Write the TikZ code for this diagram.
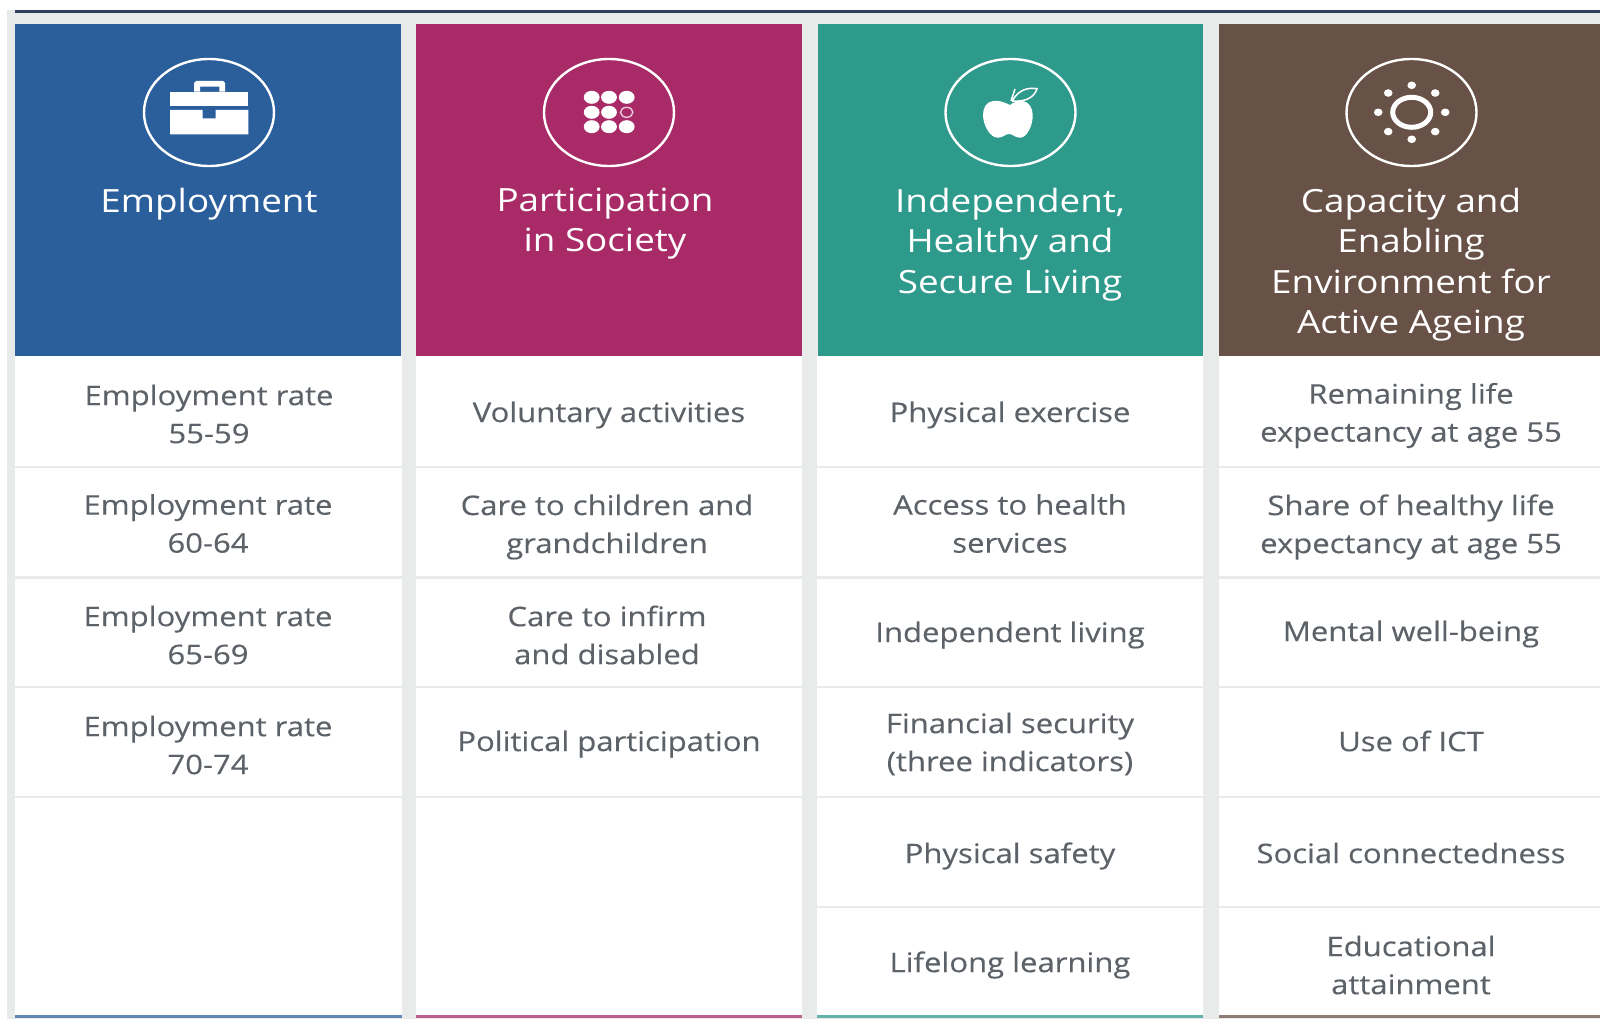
\documentclass[tikz,border=0pt]{standalone}
\usepackage{fontspec}
\setmainfont[FakeStretch=1.15]{Open Sans}
\newfontfamily\bodyfont[FakeStretch=1.15,FakeBold=0.25]{Open Sans}
\usetikzlibrary{shapes.geometric}
\definecolor{cblue}{HTML}{2B5F9C}
\definecolor{cmag}{HTML}{A82B68}
\definecolor{cteal}{HTML}{2E9A8C}
\definecolor{cbrown}{HTML}{685247}
\definecolor{cgrey}{HTML}{E9EBEB}
\definecolor{cbar}{HTML}{2C4160}
\definecolor{ctext}{HTML}{5C6268}
\tikzset{
  x=1pt,y=-1pt,
  head/.style={inner sep=0,outer sep=0,anchor=north west,minimum width=385.5pt,minimum height=331pt},
  ring/.style={ellipse,draw=white,line width=2.4pt,inner sep=0,minimum width=130pt,minimum height=107pt},
  htext/.style={text=white,align=center,anchor=north,inner sep=0,font=\fontsize{32}{40.6}\selectfont},
  cell/.style={text=ctext,align=center,anchor=center,inner sep=0,font=\bodyfont\fontsize{27}{38}\selectfont},
  sep/.style={draw=cgrey,line width=2.5pt},
}
\begin{document}
\begin{tikzpicture}
\useasboundingbox (0,0) rectangle (1600,1019);
\fill[white] (0,0) rectangle (1600,1019);
\fill[cgrey] (7,10) rectangle (1600,1019);
\fill[cbar] (15,10) rectangle (1600,13.5);
% white column bodies
\foreach \xa/\xb in {15/402,416/802,817/1203,1219/1600}{
  \fill[white] (\xa,355) rectangle (\xb,1015);
  \foreach \yy in {467,577.5,687,797}{\draw[sep] (\xa,\yy) -- (\xb,\yy);}
}
\foreach \xa/\xb in {817/1203,1219/1600}{
  \draw[sep] (\xa,907) -- (\xb,907);
}
% headers
\node[head,fill=cblue] (h1) at (15,24.5) {};
\node[head,fill=cmag] (h2) at (416,24.5) {};
\node[head,fill=cteal] (h3) at (817.5,24.5) {};
\fill[cbrown] (1219,24.5) rectangle (1600,355.5);
% bottom bars
\fill[cblue!75!white] (15,1014.5) rectangle (402,1018);
\fill[cmag!75!white] (416,1014.5) rectangle (802,1018);
\fill[cteal!75!white] (817,1014.5) rectangle (1203,1018);
\fill[cbrown!75!white] (1219,1014.5) rectangle (1600,1018);
% rings
\node[ring] (r1) at (209,112.5) {};
\node[ring] (r2) at (609,112.5) {};
\node[ring] (r3) at (1010.5,112.5) {};
\node[ring] (r4) at (1411.5,112.5) {};
% briefcase
\fill[white] (170,91.7) rectangle (248.3,106);
\fill[white] (170,110) -- (202.7,110) -- (202.7,118.3) -- (215.7,118.3) -- (215.7,110) -- (248.3,110) -- (248.3,134.3) -- (170,134.3) -- cycle;
\fill[white,even odd rule] (194,91.7) -- (194,83) -- (196,81) -- (223,81) -- (225,83) -- (225,91.7) -- cycle (200,91.7) rectangle (219.3,86.7);
% dots
\foreach \px in {591.7,609,626.7}{\foreach \py in {97.3,112.3,126.7}{
  \ifdim\px pt=626.7pt \ifdim\py pt=112.3pt \else \fill[white] (\px,\py) ellipse [x radius=7.9,y radius=6.5]; \fi
  \else \fill[white] (\px,\py) ellipse [x radius=7.9,y radius=6.5]; \fi
}}
\draw[white!75!cmag,line width=1.4pt] (626.7,112.3) ellipse [x radius=6.2,y radius=5];
% apple
\fill[white] (1010,105) .. controls (1004,102) and (998,100) .. (993,101)
  .. controls (986,102) and (983,108) .. (983,115)
  .. controls (983,125) and (990,138) .. (998,137.7)
  .. controls (1003,137.7) and (1005,134) .. (1009,134)
  .. controls (1013,134) and (1015,137.7) .. (1020,137.7)
  .. controls (1027,138) and (1033,125) .. (1032.7,115)
  .. controls (1032.7,108) and (1029,102) .. (1023,101)
  .. controls (1018,100) and (1014,102) .. (1010,105) -- cycle;
\draw[white,line width=1.5pt] (1011,101) -- (1015,89);
\draw[white,line width=1.5pt] (1012,101) .. controls (1018,91) and (1026,87) .. (1037,88.7)
  .. controls (1034,98) and (1025,102) .. (1012,101);
% sun
\draw[white,line width=5pt] (1411.7,112.3) ellipse [x radius=19,y radius=15];
\foreach \dx/\dy in {33.5/0,-33.5/0,0/27,0/-27,23.5/19.3,-23.5/19.3,23.5/-19.3,-23.5/-19.3}{
  \fill[white] (1411.7+\dx,112.3+\dy) ellipse [x radius=4.3,y radius=3.8];
}
% header texts
\node[htext] (t1) at (209,187.5) {Employment};
\node[htext] (t2) at (605,187.5) {Participation\\in Society};
\node[htext] (t3) at (1010,187.5) {Independent,\\Healthy and\\Secure Living};
\node[htext] (t4) at (1411,187.5) {Capacity and\\Enabling\\Environment for\\Active Ageing};
% cells
\node[cell] (c11) at (209,414) {Employment rate\\55-59};
\node[cell] (c12) at (208,523.5) {Employment rate\\60-64};
\node[cell] (c13) at (208,635) {Employment rate\\65-69};
\node[cell] (c14) at (208,745) {Employment rate\\70-74};
\node[cell] (c21) at (609,415) {Voluntary activities};
\node[cell] (c22) at (607,527) {Care to children and\\grandchildren};
\node[cell] (c23) at (607,635) {Care to infirm\\and disabled};
\node[cell] (c24) at (609,744) {Political participation};
\node[cell] (c31) at (1010,415) {Physical exercise};
\node[cell] (c32) at (1010,523.5) {Access to health\\services};
\node[cell] (c33) at (1010,635) {Independent living};
\node[cell] (c34) at (1010,744) {Financial security\\(three indicators)};
\node[cell] (c35) at (1010,856) {Physical safety};
\node[cell] (c36) at (1010,965) {Lifelong learning};
\node[cell] (c41) at (1411,415.5) {Remaining life\\expectancy at age 55};
\node[cell] (c42) at (1411,527) {Share of healthy life\\expectancy at age 55};
\node[cell] (c43) at (1411,634) {Mental well-being};
\node[cell] (c44) at (1411,741) {Use of ICT};
\node[cell] (c45) at (1411,853) {Social connectedness};
\node[cell] (c46) at (1411,965) {Educational\\attainment};
\end{tikzpicture}
\end{document}
